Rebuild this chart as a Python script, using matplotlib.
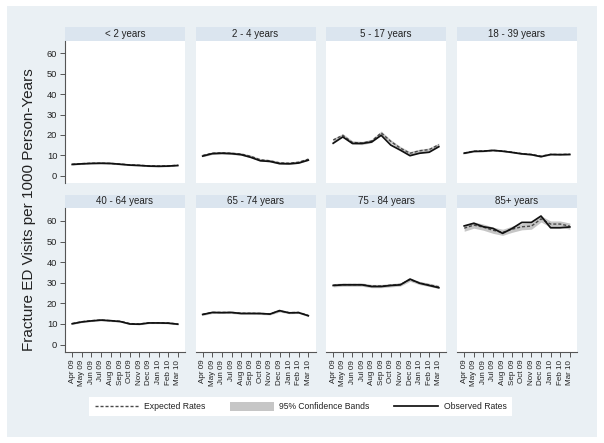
import matplotlib
matplotlib.use('Agg')
import matplotlib.pyplot as plt
from matplotlib.patches import Rectangle, Patch
from matplotlib.lines import Line2D

months = ['Apr 09', 'May 09', 'Jun 09', 'Jul 09', 'Aug 09', 'Sep 09',
          'Oct 09', 'Nov 09', 'Dec 09', 'Jan 10', 'Feb 10', 'Mar 10']
groups = ['< 2 years', '2 - 4 years', '5 - 17 years', '18 - 39 years',
          '40 - 64 years', '65 - 74 years', '75 - 84 years', '85+ years']

observed = [
    [5.5, 5.8, 6.0, 6.1, 6.0, 5.6, 5.2, 5.0, 4.7, 4.6, 4.7, 5.0],
    [9.6, 10.8, 11.0, 10.8, 10.3, 9.0, 7.3, 7.0, 5.9, 5.8, 6.2, 7.6],
    [15.9, 19.0, 15.8, 15.8, 16.5, 19.8, 15.0, 12.5, 9.8, 11.0, 11.5, 14.2],
    [11.0, 11.9, 12.0, 12.4, 12.0, 11.4, 10.7, 10.3, 9.3, 10.4, 10.3, 10.4],
    [10.1, 11.0, 11.5, 11.9, 11.6, 11.2, 10.0, 9.9, 10.5, 10.5, 10.4, 9.9],
    [14.6, 15.6, 15.5, 15.6, 15.1, 15.1, 15.1, 14.8, 16.5, 15.4, 15.5, 14.0],
    [28.7, 29.0, 29.0, 29.0, 28.2, 28.2, 28.7, 29.0, 31.8, 29.8, 28.7, 27.6],
    [57.6, 58.9, 57.2, 56.4, 54.0, 56.4, 59.3, 59.3, 62.4, 56.7, 56.7, 57.1],
]
expected = [
    [5.6, 5.9, 6.1, 6.1, 6.0, 5.7, 5.3, 5.1, 4.8, 4.7, 4.8, 5.1],
    [9.9, 11.0, 11.2, 11.0, 10.6, 9.5, 7.8, 7.3, 6.3, 6.1, 6.6, 8.1],
    [17.5, 19.8, 16.3, 16.0, 17.0, 21.0, 16.8, 13.5, 11.0, 12.2, 12.8, 15.2],
    [11.1, 12.0, 12.1, 12.4, 12.1, 11.5, 10.8, 10.4, 9.6, 10.4, 10.4, 10.5],
    [10.2, 11.1, 11.6, 11.9, 11.6, 11.3, 10.2, 10.0, 10.6, 10.6, 10.5, 10.0],
    [14.7, 15.6, 15.6, 15.6, 15.2, 15.2, 15.1, 14.9, 16.3, 15.5, 15.6, 14.1],
    [28.8, 29.1, 29.1, 29.1, 28.4, 28.4, 28.8, 29.2, 31.5, 29.9, 29.0, 28.0],
    [56.5, 58.0, 57.0, 55.5, 54.5, 56.0, 57.2, 57.5, 61.0, 58.5, 58.5, 57.5],
]
ci_low = [
    [5.2, 5.5, 5.7, 5.7, 5.6, 5.3, 4.9, 4.7, 4.4, 4.3, 4.4, 4.7],
    [9.3, 10.4, 10.6, 10.4, 10.0, 8.9, 7.2, 6.7, 5.7, 5.5, 6.0, 7.5],
    [16.7, 19.0, 15.5, 15.2, 16.2, 20.1, 16.0, 12.7, 10.2, 11.4, 12.0, 14.4],
    [10.7, 11.6, 11.7, 12.0, 11.7, 11.1, 10.4, 10.0, 9.2, 10.0, 10.0, 10.1],
    [9.8, 10.7, 11.2, 11.5, 11.2, 10.9, 9.8, 9.6, 10.2, 10.2, 10.1, 9.6],
    [14.2, 15.1, 15.1, 15.1, 14.7, 14.7, 14.6, 14.4, 15.8, 15.0, 15.1, 13.6],
    [28.0, 28.3, 28.3, 28.3, 27.6, 27.6, 28.0, 28.4, 30.7, 29.1, 28.2, 27.2],
    [55.0, 56.5, 55.5, 54.0, 53.0, 54.5, 55.7, 56.0, 59.5, 57.0, 57.0, 56.0],
]
ci_high = [
    [6.0, 6.3, 6.5, 6.5, 6.4, 6.1, 5.7, 5.5, 5.2, 5.1, 5.2, 5.5],
    [10.5, 11.6, 11.8, 11.6, 11.2, 10.1, 8.4, 7.9, 6.9, 6.7, 7.2, 8.7],
    [18.3, 20.6, 17.1, 16.8, 17.8, 21.9, 17.6, 14.3, 11.8, 13.0, 13.6, 16.0],
    [11.5, 12.4, 12.5, 12.8, 12.5, 11.9, 11.2, 10.8, 10.0, 10.8, 10.8, 10.9],
    [10.6, 11.5, 12.0, 12.3, 12.0, 11.7, 10.6, 10.4, 11.0, 11.0, 10.9, 10.4],
    [15.2, 16.1, 16.1, 16.1, 15.7, 15.7, 15.6, 15.4, 16.8, 16.0, 16.1, 14.6],
    [29.6, 29.9, 29.9, 29.9, 29.2, 29.2, 29.6, 30.0, 32.3, 30.7, 29.8, 28.8],
    [58.0, 59.5, 58.5, 57.0, 56.0, 57.5, 58.7, 59.0, 62.5, 60.0, 60.0, 59.0],
]
y_ticks = [0, 10, 20, 30, 40, 50, 60]
y_label = 'Fracture ED Visits per 1000 Person-Years'
legend_labels = ['Expected Rates', '95% Confidence Bands', 'Observed Rates']

plt.rcParams['font.family'] = ['Liberation Sans', 'DejaVu Sans']
W, H = 604, 443
fig = plt.figure(figsize=(W / 100, H / 100), dpi=100)
fig.patch.set_facecolor('white')


def px(x0, y0, x1, y1):
    return [x0 / W, 1 - y1 / H, (x1 - x0) / W, (y1 - y0) / H]


bg = Rectangle((7 / W, 6 / H), 590 / W, 431 / H, transform=fig.transFigure,
               facecolor='#eaf0f4', edgecolor='none', zorder=-10)
fig.patches.append(bg)

BAND = '#c6c6c6'
EXPC = '#4a4a4a'
AXC = '#555555'
TXT = '#222222'
col_left = [65, 195.5, 326, 457]
pw = 120
rows = [(27, 40.5, 183), (194.5, 208, 352)]
x = list(range(len(months)))

for i, g in enumerate(groups):
    r, c = divmod(i, 4)
    st, pt, pb = rows[r]
    l = col_left[c]
    sax = fig.add_axes(px(l, st, l + pw, pt))
    sax.set_zorder(1)
    sax.set_facecolor('#dbe5ef')
    sax.set_xticks([])
    sax.set_yticks([])
    for s in sax.spines.values():
        s.set_visible(False)
    sax.text(0.5, 0.5, g, ha='center', va='center', fontsize=7, color=TXT,
             transform=sax.transAxes)

    ax = fig.add_axes(px(l, pt, l + pw, pb))
    ax.set_zorder(1)
    ax.set_facecolor('white')
    ax.fill_between(x, ci_low[i], ci_high[i], color=BAND, lw=0, zorder=1)
    ax.plot(x, expected[i], color=EXPC, ls=(0, (2.2, 1.4)), lw=1.0, zorder=2)
    ax.plot(x, observed[i], color='#111111', lw=1.25, zorder=3)
    ax.set_xlim(-0.75, 11.75)
    ax.set_ylim(-3.6, 66.3)
    ax.spines['top'].set_visible(False)
    ax.spines['right'].set_visible(False)
    for sp in ('left', 'bottom'):
        ax.spines[sp].set_color(AXC)
        ax.spines[sp].set_linewidth(0.8)
    if c == 0:
        ax.set_yticks(y_ticks)
        ax.tick_params(axis='y', length=3.5, width=0.7, color=AXC,
                       labelsize=6.7, labelcolor=TXT, pad=2)
    else:
        ax.spines['left'].set_visible(False)
        ax.set_yticks([])
    if r == 1:
        ax.set_xticks(x)
        ax.set_xticklabels(months, rotation=90)
        ax.tick_params(axis='x', length=3.5, width=0.7, color=AXC,
                       labelsize=5.8, labelcolor=TXT, pad=2)
    else:
        ax.spines['bottom'].set_visible(False)
        ax.set_xticks([])

fig.text(29 / W, 1 - 210 / H, y_label, rotation=90, ha='center', va='center',
         fontsize=11, color=TXT)

handles = [Line2D([], [], color=EXPC, ls=(0, (2.2, 1.4)), lw=1.0),
           Patch(facecolor=BAND, edgecolor='none'),
           Line2D([], [], color='#111111', lw=1.25)]
leg = fig.legend(handles, legend_labels, ncol=3, loc='center',
                 bbox_to_anchor=(300.5 / W, 1 - 406.5 / H), frameon=True,
                 fancybox=False, edgecolor='none', facecolor='white',
                 framealpha=1, fontsize=6.2, handlelength=5.1,
                 handleheight=1.3, handletextpad=0.6, columnspacing=2.9,
                 borderpad=0.6, borderaxespad=0)
leg.set_zorder(2)
for t in leg.get_texts():
    t.set_color(TXT)

fig.savefig('out.png', dpi=100, facecolor='white')
